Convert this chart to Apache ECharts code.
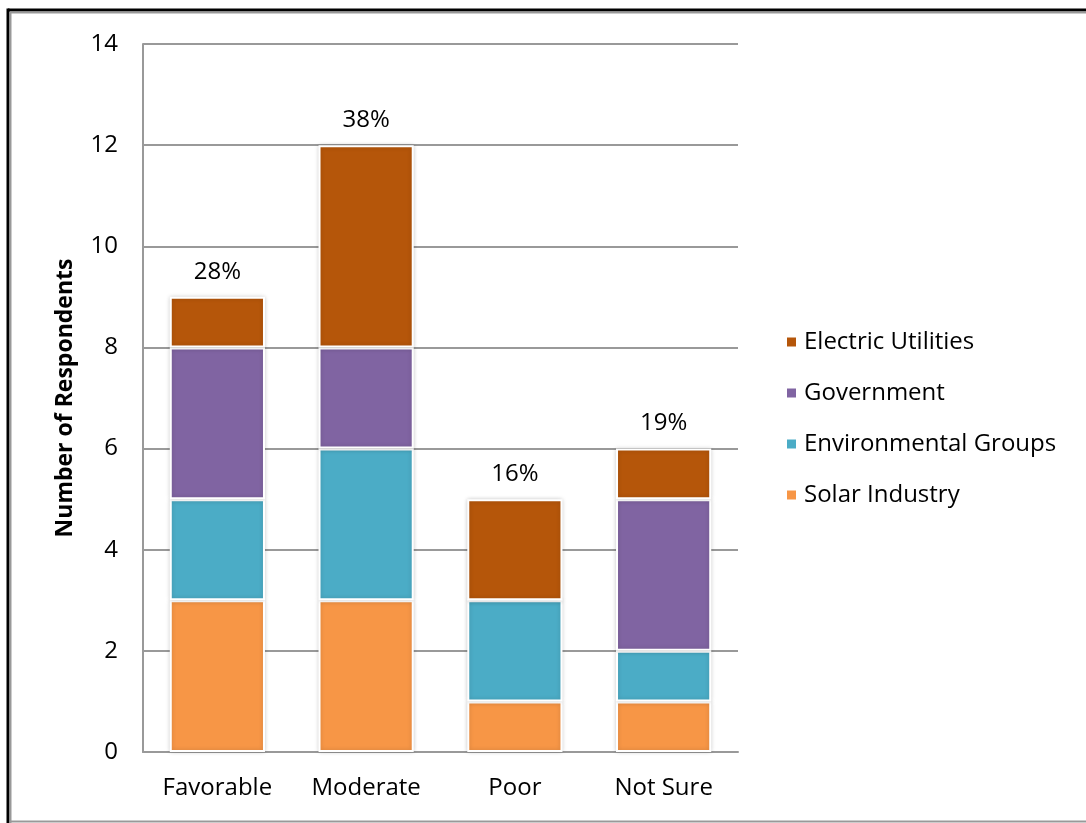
<!DOCTYPE html>
<html><head><meta charset="utf-8">
<script src="https://cdn.jsdelivr.net/npm/echarts@6/dist/echarts.min.js"></script>
<style>html,body{margin:0;padding:0;background:#fff}#c{width:1086px;height:823px}</style>
</head><body><div id="c"></div>
<script>
var categories = ['Favorable', 'Moderate', 'Poor', 'Not Sure'];
var solarIndustry = [3, 3, 1, 1];
var environmentalGroups = [2, 3, 2, 1];
var government = [3, 2, 0, 3];
var electricUtilities = [1, 4, 2, 1];
var percentLabels = ['28%', '38%', '16%', '19%'];
var yTicks = [0, 2, 4, 6, 8, 10, 12, 14];

var chart = echarts.init(document.getElementById('c'), null, {renderer: 'canvas'});
var FONT = 'Open Sans';
function mk(name, data, color, withLabel) {
  var s = {
    name: name, type: 'bar', stack: 'total', data: data, barWidth: '64%',
    itemStyle: {color: color, borderColor: '#fff', borderWidth: 2,
      shadowColor: 'rgba(0,0,0,0.18)', shadowBlur: 4},
    emphasis: {disabled: true}
  };
  if (withLabel) {
    s.label = {show: true, position: 'top', distance: 13, color: '#000',
      fontFamily: FONT, fontSize: 24,
      formatter: function (p) { return percentLabels[p.dataIndex]; }};
  }
  return s;
}
chart.setOption({
  animation: false,
  backgroundColor: '#fff',
  graphic: [
    {type: 'line', shape: {x1: 8, y1: 10, x2: 1090, y2: 10}, style: {stroke: '#000', lineWidth: 3}},
    {type: 'line', shape: {x1: 8, y1: 8.5, x2: 8, y2: 823}, style: {stroke: '#000', lineWidth: 3}},
    {type: 'line', shape: {x1: 10, y1: 12.5, x2: 1090, y2: 12.5}, style: {stroke: '#999', lineWidth: 2}},
    {type: 'line', shape: {x1: 10.5, y1: 12, x2: 10.5, y2: 823}, style: {stroke: '#999', lineWidth: 2}},
    {type: 'line', shape: {x1: 10, y1: 821.5, x2: 1090, y2: 821.5}, style: {stroke: '#999', lineWidth: 2}}
  ],
  grid: {left: 143, right: 348, top: 44, bottom: 71},
  legend: {
    orient: 'vertical', left: 780, top: 323, itemGap: 23,
    itemWidth: 11, itemHeight: 11, icon: 'rect',
    textStyle: {fontFamily: FONT, fontSize: 24, lineHeight: 28, color: '#000', padding: [0,0,0,2]},
    data: ['Electric Utilities', 'Government', 'Environmental Groups', 'Solar Industry']
  },
  xAxis: {
    type: 'category', data: categories,
    axisLine: {lineStyle: {color: '#999', width: 2}},
    axisTick: {show: false},
    axisLabel: {fontFamily: FONT, fontSize: 24, color: '#000', margin: 24}
  },
  yAxis: {
    type: 'value', min: 0, max: 14, interval: 2,
    name: 'Number of Respondents', nameLocation: 'middle', nameGap: 66,
    nameTextStyle: {fontFamily: FONT, fontSize: 23, fontWeight: 'bold', color: '#000'},
    axisLine: {show: true, lineStyle: {color: '#999', width: 2}},
    axisTick: {show: false},
    axisLabel: {fontFamily: FONT, fontSize: 24, color: '#000', margin: 25,
      formatter: function (v) { return yTicks.indexOf(v) >= 0 ? String(v) : ''; }},
    splitLine: {lineStyle: {color: '#999', width: 2}}
  },
  series: [
    mk('Solar Industry', solarIndustry, '#F79646', false),
    mk('Environmental Groups', environmentalGroups, '#4BACC6', false),
    mk('Government', government, '#8064A2', false),
    mk('Electric Utilities', electricUtilities, '#B5560A', true)
  ]
});
</script></body></html>
